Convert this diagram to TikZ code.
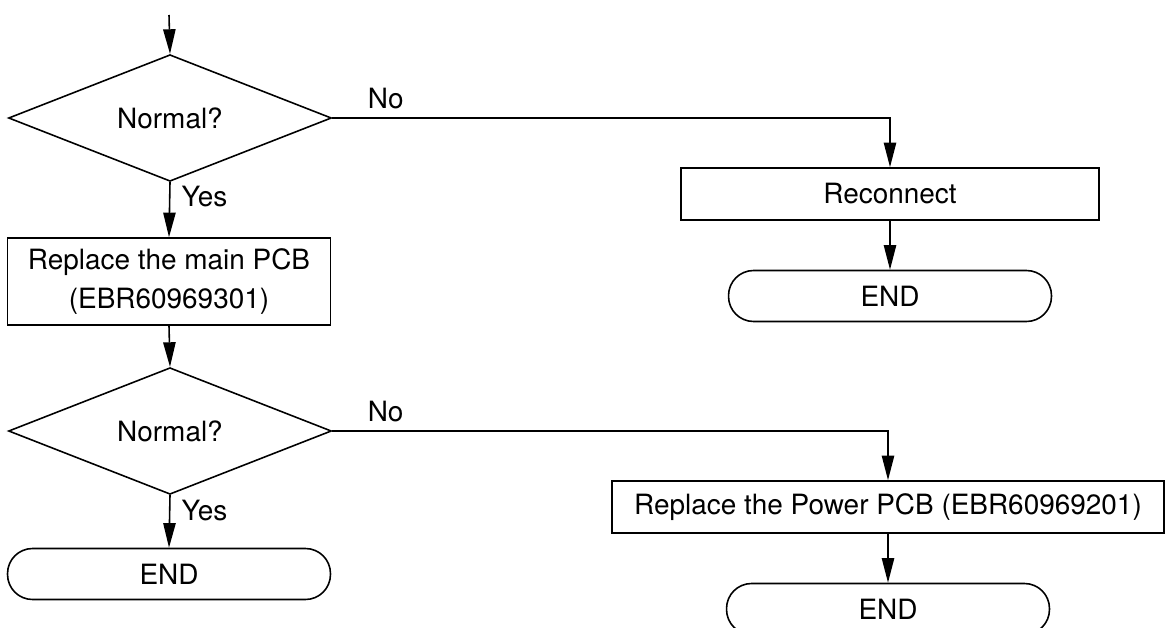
\documentclass[tikz,border=0pt]{standalone}
\usepackage{fontspec}
\setmainfont{TeX Gyre Heros}
\usetikzlibrary{shapes.geometric,arrows.meta}
\begin{document}
\begin{tikzpicture}[x=0.02cm,y=-0.02cm,line width=0.9pt,
    font=\fontsize{15.9}{22}\selectfont,
    flow/.style={-{Triangle[length=14pt,width=7pt]}},
    decision/.style={draw,diamond,inner sep=0pt,minimum width=6.46cm,minimum height=1.92cm},
    stepbox/.style={draw,rectangle,align=center,minimum height=1.04cm},
    endbox/.style={draw,rectangle,rounded corners=0.5cm,minimum width=6.46cm,minimum height=1.02cm}]
    \useasboundingbox (0,0) rectangle (1165,628);
    % Left column
    \coordinate (start) at (169,15);
    \node[decision] (check1) at (170,118) {Normal?};
    \node[stepbox,minimum width=6.46cm,minimum height=1.74cm] (mainpcb) at (169,281.5) {Replace the main PCB\\(EBR60969301)};
    \node[decision] (check2) at (170,431) {Normal?};
    \node[endbox] (end1) at (169,574) {END};
    % Right column
    \node[stepbox,minimum width=8.36cm] (reconnect) at (890,194) {Reconnect};
    \node[endbox] (end2) at (890,296) {END};
    \node[stepbox,minimum width=11.04cm] (powerpcb) at (888,507) {Replace the Power PCB (EBR60969201)};
    \node[endbox] (end3) at (888,609) {END};
    % Flow lines
    \draw[flow] (start) -- (check1.north);
    \draw[flow] (check1.south) -- node[pos=0.27,right=3pt] (yes1) {Yes} (mainpcb.north);
    \draw[flow] (mainpcb.south) -- (check2.north);
    \draw[flow] (check2.south) -- node[pos=0.3,right=3pt] (yes2) {Yes} (end1.north);
    \draw[flow] (check1.east) -| node[pos=0.048,above=1.5pt] (no1) {No} (reconnect.north);
    \draw[flow] (reconnect.south) -- (end2.north);
    \draw[flow] (check2.east) -| node[pos=0.048,above=1.5pt] (no2) {No} (powerpcb.north);
    \draw[flow] (powerpcb.south) -- (end3.north);
\end{tikzpicture}
\end{document}
